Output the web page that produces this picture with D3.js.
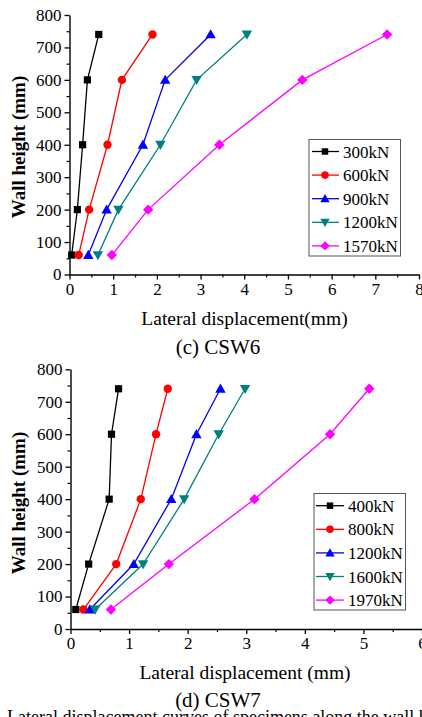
<!DOCTYPE html>
<html><head><meta charset="utf-8">
<script src="https://cdn.jsdelivr.net/npm/d3@7/dist/d3.min.js"></script>
<style>
html,body{margin:0;padding:0;background:#fff;}
svg{display:block;font-family:"Liberation Serif","Times New Roman",serif;}
</style></head>
<body>
<script>
// ---- data ----
const heights = [60, 200, 400, 600, 740];
const yTicks = [0, 100, 200, 300, 400, 500, 600, 700, 800];

const csw6Labels = ["300kN", "600kN", "900kN", "1200kN", "1570kN"];
const csw6_300 = [0.05, 0.18, 0.30, 0.41, 0.67];
const csw6_600 = [0.21, 0.45, 0.87, 1.20, 1.90];
const csw6_900 = [0.43, 0.85, 1.68, 2.19, 3.23];
const csw6_1200 = [0.65, 1.12, 2.08, 2.91, 4.06];
const csw6_1570 = [0.97, 1.80, 3.43, 5.33, 7.27];
const csw6XTicks = [0, 1, 2, 3, 4, 5, 6, 7, 8];

const csw7Labels = ["400kN", "800kN", "1200kN", "1600kN", "1970kN"];
const csw7_400 = [0.09, 0.31, 0.66, 0.70, 0.82];
const csw7_800 = [0.22, 0.78, 1.20, 1.46, 1.66];
const csw7_1200 = [0.33, 1.08, 1.72, 2.15, 2.56];
const csw7_1600 = [0.42, 1.24, 1.94, 2.53, 2.98];
const csw7_1970 = [0.69, 1.68, 3.14, 4.43, 5.10];
const csw7XTicks = [0, 1, 2, 3, 4, 5, 6];

const colors = ["#000000", "#ff0000", "#0000ff", "#008080", "#ff00ff"];
const shapes = ["square", "circle", "triangle", "triangleDown", "diamond"];

// ---- drawing ----
const W = 422, H = 717;
const svg = d3.select("body").append("svg").attr("width", W).attr("height", H);

function markerPath(shape, k) {
  k = k || 1;
  const p = d3.path();
  if (shape === "square") { const s = 3.6 * k; p.rect(-s, -s, 2 * s, 2 * s); }
  else if (shape === "circle") { p.arc(0, 0, 4.2 * k, 0, 2 * Math.PI); }
  else if (shape === "triangle") { const s = 5.2 * k; p.moveTo(0, -s); p.lineTo(s * 1.0, s * 0.75); p.lineTo(-s * 1.0, s * 0.75); p.closePath(); }
  else if (shape === "triangleDown") { const s = 5.2 * k; p.moveTo(0, s); p.lineTo(s * 1.0, -s * 0.75); p.lineTo(-s * 1.0, -s * 0.75); p.closePath(); }
  else if (shape === "diamond") { const s = 5.2 * k; p.moveTo(0, -s); p.lineTo(s, 0); p.lineTo(0, s); p.lineTo(-s, 0); p.closePath(); }
  return p.toString();
}

function drawPanel(cfg) {
  const x = d3.scaleLinear().domain(cfg.xDomain).range([cfg.x0, cfg.x1]);
  const y = d3.scaleLinear().domain([0, 800]).range([cfg.y0, cfg.y1]);
  const g = svg.append("g");

  // minor ticks
  const xMinor = d3.range(cfg.xDomain[0] + 0.5, cfg.xDomain[1], 1);
  g.append("g").attr("transform", `translate(0,${cfg.y0})`)
    .call(d3.axisBottom(x).tickValues(xMinor).tickSize(3).tickFormat("").tickSizeOuter(0))
    .call(a => a.select(".domain").remove())
    .call(a => a.selectAll("line").attr("stroke-width", 1.2));
  const yMinor = d3.range(50, 800, 100);
  g.append("g").attr("transform", `translate(${cfg.x0},0)`)
    .call(d3.axisLeft(y).tickValues(yMinor).tickSize(3).tickFormat("").tickSizeOuter(0))
    .call(a => a.select(".domain").remove())
    .call(a => a.selectAll("line").attr("stroke-width", 1.2));

  // major axes
  const xa = g.append("g").attr("transform", `translate(0,${cfg.y0})`)
    .call(d3.axisBottom(x).tickValues(cfg.xTicks).tickSize(5).tickPadding(3).tickSizeOuter(0).tickFormat(d3.format("d")));
  const ya = g.append("g").attr("transform", `translate(${cfg.x0},0)`)
    .call(d3.axisLeft(y).tickValues(yTicks).tickSize(5).tickPadding(3).tickSizeOuter(0));
  [xa, ya].forEach(a => {
    a.selectAll("text").attr("font-family", "Liberation Serif").attr("font-size", 17).attr("fill", "#000");
    a.selectAll("line").attr("stroke-width", 1.3);
    a.select(".domain").attr("stroke-width", 1.4);
  });

  // series
  const line = d3.line().x(d => x(d[0])).y(d => y(d[1]));
  cfg.series.forEach((vals, i) => {
    const pts = vals.map((v, j) => [v, heights[j]]);
    g.append("path").attr("d", line(pts)).attr("fill", "none")
      .attr("stroke", colors[i]).attr("stroke-width", 1.3);
    g.selectAll(null).data(pts).enter().append("path")
      .attr("d", markerPath(shapes[i]))
      .attr("transform", d => `translate(${x(d[0])},${y(d[1])})`)
      .attr("fill", colors[i]);
  });

  // legend
  const L = cfg.legend;
  g.append("rect").attr("x", L.x).attr("y", L.y).attr("width", L.w).attr("height", L.h)
    .attr("fill", "#fff").attr("stroke", "#555").attr("stroke-width", 1);
  cfg.labels.forEach((lab, i) => {
    const yy = L.firstY + i * L.step;
    g.append("line").attr("x1", L.lx1).attr("x2", L.lx2).attr("y1", yy).attr("y2", yy)
      .attr("stroke", colors[i]).attr("stroke-width", 1.3);
    g.append("path").attr("d", markerPath(shapes[i], 0.9))
      .attr("transform", `translate(${L.mx},${yy})`).attr("fill", colors[i]);
    g.append("text").attr("x", L.tx).attr("y", yy + 6).attr("font-size", 17).text(lab);
  });

  // titles
  g.append("text").attr("transform", `translate(${cfg.yTitleX},${cfg.yTitleY}) rotate(-90)`)
    .attr("text-anchor", "middle").attr("font-weight", "bold").attr("font-size", 19).text("Wall height (mm)");
  g.append("text").attr("x", cfg.xTitleX).attr("y", cfg.xTitleY).attr("text-anchor", "middle")
    .attr("font-size", 19.5).text(cfg.xTitle);
  g.append("text").attr("x", 218).attr("y", cfg.subY).attr("text-anchor", "middle")
    .attr("font-size", 21).text(cfg.sub);
}

drawPanel({
  xDomain: [0, 8], xTicks: csw6XTicks, x0: 69.5, x1: 419,
  y0: 274.5, y1: 15,
  series: [csw6_300, csw6_600, csw6_900, csw6_1200, csw6_1570],
  labels: csw6Labels,
  legend: { x: 309, y: 139.5, w: 91.5, h: 116.5, firstY: 151.5, step: 23.6, lx1: 312, lx2: 339, mx: 325, tx: 343 },
  yTitleX: 24.5, yTitleY: 147,
  xTitle: "Lateral displacement(mm)", xTitleX: 244.5, xTitleY: 324.5,
  sub: "(c) CSW6", subY: 353.5
});

drawPanel({
  xDomain: [0, 6], xTicks: csw7XTicks, x0: 70.5, x1: 422,
  y0: 629, y1: 369.3,
  series: [csw7_400, csw7_800, csw7_1200, csw7_1600, csw7_1970],
  labels: csw7Labels,
  legend: { x: 314, y: 493.5, w: 91.5, h: 116.5, firstY: 505.7, step: 23.6, lx1: 316, lx2: 344, mx: 330, tx: 348 },
  yTitleX: 24.5, yTitleY: 503,
  xTitle: "Lateral displacement (mm)", xTitleX: 245, xTitleY: 678.5,
  sub: "(d) CSW7", subY: 707
});

svg.append("text").attr("x", 7).attr("y", 723).attr("font-size", 18)
  .text("Lateral displacement curves of specimens along the wall height");
</script>
</body></html>
